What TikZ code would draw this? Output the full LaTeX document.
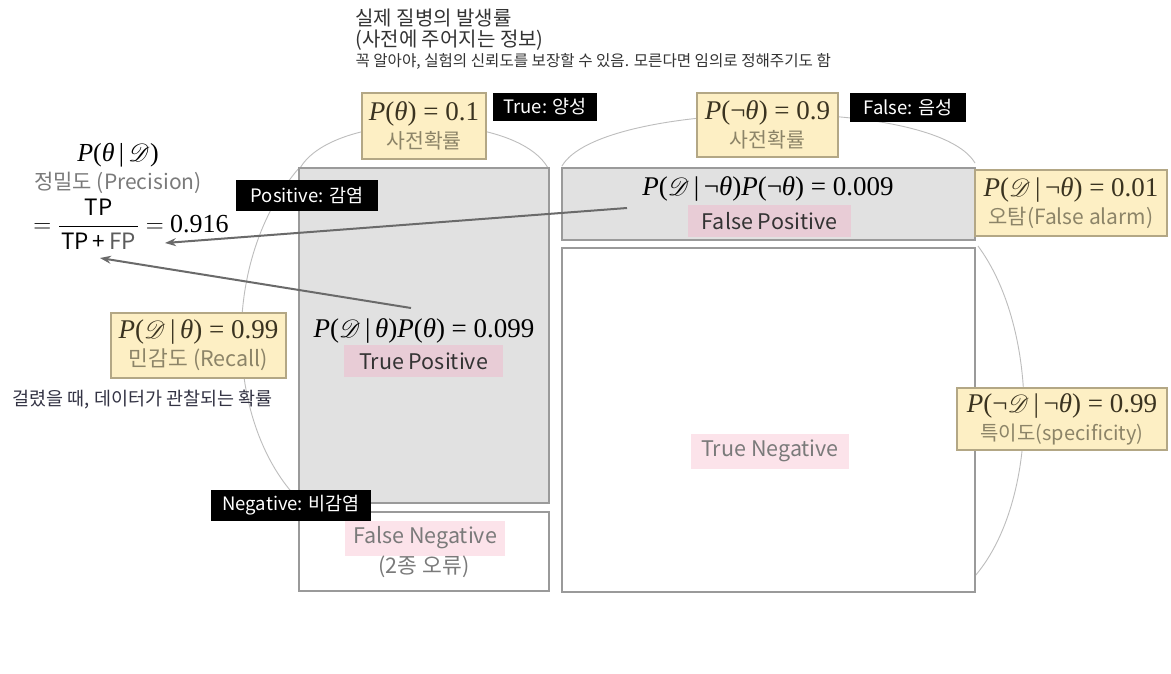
\documentclass[tikz,border=0pt]{standalone}
\usepackage[no-math]{fontspec}
\usepackage{mathrsfs}
\setmainfont{Noto Sans CJK KR}
\newfontfamily\kr{Noto Sans CJK KR}
\newfontfamily\tnr{Liberation Serif}
\newcommand{\vi}[1]{\textit{#1}}
\newcommand{\Dsc}{\mbox{$\mathscr{D}$}}
\usetikzlibrary{arrows.meta}
\definecolor{yfill}{HTML}{FDEFC4}
\definecolor{ybord}{HTML}{B3A785}
\definecolor{ymath}{HTML}{3A3320}
\definecolor{ytxt}{HTML}{8C8468}
\definecolor{gfill}{HTML}{E1E1E1}
\definecolor{gbord}{HTML}{9A9A9A}
\definecolor{pinkA}{HTML}{E8CCD6}
\definecolor{pinkB}{HTML}{FCE3EA}
\definecolor{arcc}{HTML}{BDBDBD}
\definecolor{arrc}{HTML}{6A6A6A}
\definecolor{gtxt}{HTML}{7A7A7A}
\definecolor{dtxt}{HTML}{333333}
\definecolor{ntxt}{HTML}{333344}
\begin{document}
\begin{tikzpicture}[x=1pt,y=-1pt,
  ybox/.style={draw=ybord,fill=yfill,line width=1.2pt,inner sep=0pt,align=center,font=\fontsize{20}{28}\selectfont},
  gbox/.style={draw=gbord,fill=gfill,line width=1.5pt,inner sep=0pt},
  wbox/.style={draw=gbord,fill=white,line width=1.5pt,inner sep=0pt},
  blk/.style={fill=black,text=white,inner sep=0pt,font=\kr\fontsize{18.5}{21}\selectfont},
  hlbox/.style={inner sep=0pt,font=\kr\fontsize{21.5}{25}\selectfont},
  arcline/.style={draw=arcc,line width=0.9pt},
  arr/.style={draw=arrc,line width=2pt,-{Stealth[length=11pt,width=8pt]}},
  mth/.style={font=\tnr\fontsize{27}{29}\selectfont},
]
\useasboundingbox[fill=white] (0,0) rectangle (1171,673);

% title texts
\node[anchor=west,text=dtxt,font=\kr\fontsize{20}{23}\selectfont] (t1) at (352,18) {실제 질병의 발생률};
\node[anchor=west,text=dtxt,font=\kr\fontsize{20}{23}\selectfont] (t2) at (352,40) {(사전에 주어지는 정보)};
\node[anchor=west,text=dtxt,font=\kr\fontsize{15.6}{18}\selectfont] (t3) at (352,61) {꼭 알아야, 실험의 신뢰도를 보장할 수 있음. 모른다면 임의로 정해주기도 함};

% circle arcs
\draw[arcline] (299,170) .. controls (330,110) and (515,110) .. (548,168);
\draw[arcline] (562,166) .. controls (600,100) and (935,95) .. (975,163);
\draw[arcline] (299,168) .. controls (220,260) and (225,420) .. (296,497);
\draw[arcline] (978,246) .. controls (1040,330) and (1040,500) .. (975,576);

% main boxes
\node[gbox,minimum width=250pt,minimum height=335pt] (tpcol) at (424,335.5) {};
\node[wbox,minimum width=250pt,minimum height=79pt] (fnbox) at (424,551.5) {};
\node[gbox,minimum width=413pt,minimum height=72pt] (fpbox) at (768.5,204) {};
\node[wbox,minimum width=413pt,minimum height=344pt] (tnbox) at (768.5,420) {};

% prior boxes
\node[ybox,minimum width=124pt,minimum height=66pt] (pth) at (424,126)
  {{\color{ymath}\tnr\fontsize{27}{28}\selectfont \vi{P}(\vi{θ}) = 0.1}\\{\color{ytxt}\kr\fontsize{20.5}{23}\selectfont 사전확률}};
\node[ybox,minimum width=141pt,minimum height=64pt] (pnth) at (767.5,125)
  {{\color{ymath}\tnr\fontsize{27}{28}\selectfont \vi{P}(¬\vi{θ}) = 0.9}\\{\color{ytxt}\kr\fontsize{20.5}{23}\selectfont 사전확률}};
\node[blk,minimum width=104pt,minimum height=28pt] (truelbl) at (545,107) {True: 양성};
\node[blk,minimum width=116pt,minimum height=29pt] (falselbl) at (908,107.5) {False: 음성};

% likelihood boxes
\node[ybox,minimum width=192pt,minimum height=66pt] (pdnth) at (1071,203)
  {{\color{ymath}\tnr\fontsize{27}{28}\selectfont \vi{P}(\Dsc\,|\,¬\vi{θ}) = 0.01}\\{\color{ytxt}\kr\fontsize{21}{23}\selectfont 오탐(False alarm)}};
\node[ybox,minimum width=210pt,minimum height=62pt] (pndnth) at (1062,419)
  {{\color{ymath}\tnr\fontsize{27}{28}\selectfont \vi{P}(¬\Dsc\,|\,¬\vi{θ}) = 0.99}\\{\color{ytxt}\kr\fontsize{20}{22}\selectfont 특이도(specificity)}};
\node[ybox,minimum width=175pt,minimum height=65pt] (pdth) at (198.5,345.5)
  {{\color{ymath}\tnr\fontsize{27}{28}\selectfont \vi{P}(\Dsc\,|\,\vi{θ}) = 0.99}\\{\color{ytxt}\kr\fontsize{21.5}{23}\selectfont 민감도 (Recall)}};
\node[anchor=west,text=ntxt,font=\kr\fontsize{18.5}{21}\selectfont] (recnote) at (9,400) {걸렸을 때, 데이터가 관찰되는 확률};

% cell contents
\node[mth] (tpmath) at (424,331) {\vi{P}(\Dsc\,|\,\vi{θ})\vi{P}(\vi{θ}) = 0.099};
\node[hlbox,fill=pinkA,text=dtxt,minimum width=159pt,minimum height=32pt] (tphl) at (423.5,361) {True Positive};
\node[mth] (fpmath) at (768,189) {\vi{P}(\Dsc\,|\,¬\vi{θ})\vi{P}(¬\vi{θ}) = 0.009};
\node[hlbox,fill=pinkA,text=dtxt,minimum width=163pt,minimum height=32pt] (fphl) at (769.5,221) {False Positive};
\node[hlbox,fill=pinkB,text=gtxt,minimum width=158pt,minimum height=35pt] (tnhl) at (770,451) {True Negative};
\node[hlbox,fill=pinkB,text=gtxt,minimum width=160pt,minimum height=35pt] (fnhl) at (425,538) {False Negative};
\node[text=gtxt,font=\kr\fontsize{21.5}{25}\selectfont] (fnsub) at (424,567) {(2종 오류)};

% precision
\node[font=\tnr\fontsize{26}{28}\selectfont] (post) at (118,155) {\vi{P}(\vi{θ}\,|\,\Dsc)};
\node[text=gtxt,font=\kr\fontsize{21}{24}\selectfont] (prec) at (118,183) {정밀도 (Precision)};
\node[font=\tnr\fontsize{26}{28}\selectfont,inner sep=0pt] (frac) at (131,224)
  {$=\displaystyle\frac{\mbox{\kr\fontsize{22.5}{24}\selectfont TP}}{\mbox{\kr\fontsize{22.5}{24}\selectfont \hspace{2pt}TP\,+\,{\color{dtxt!80}FP}\hspace{2pt}}}=$ 0.916};

% labels
\node[blk,minimum width=142pt,minimum height=31pt] (poslbl) at (307,195.5) {Positive: 감염};
\node[blk,minimum width=160pt,minimum height=31pt] (neglbl) at (291,505.5) {Negative: 비감염};

% arrows
\coordinate (fpsrc) at (627,208);
\coordinate (tpsrc) at (411,308);
\coordinate (ptgtA) at (165,243);
\coordinate (ptgtB) at (100,258);
\draw[arr] (fpsrc) -- (ptgtA);
\draw[arr] (tpsrc) -- (ptgtB);
\end{tikzpicture}
\end{document}
